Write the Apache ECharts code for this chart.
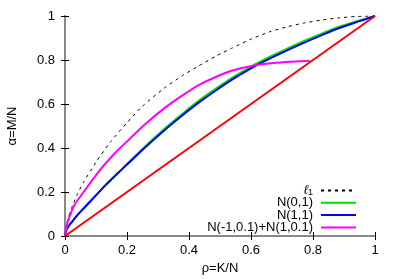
<!DOCTYPE html>
<html><head><meta charset="utf-8">
<script src="https://cdn.jsdelivr.net/npm/echarts@6/dist/echarts.min.js"></script>
<style>html,body{margin:0;padding:0;background:#fff}#c{width:399px;height:279px}</style>
</head><body><div id="c"></div>
<script>
// ℓ1 curve
var l1Rho   = [0,0.005,0.012,0.025,0.04,0.06,0.1,0.145,0.2,0.25,0.32,0.38,0.43,0.49,0.54,0.6,0.66,0.72,0.77,0.83,0.88,0.94,1];
var l1Alpha = [0,0.05,0.09,0.14,0.19,0.245,0.335,0.425,0.515,0.59,0.672,0.73,0.772,0.82,0.855,0.895,0.928,0.952,0.968,0.982,0.991,0.998,1];
// N(0,1) and N(1,1)
var nRho     = [0,0.005,0.02,0.04,0.06,0.09,0.13,0.17,0.2,0.26,0.32,0.38,0.43,0.49,0.54,0.6,0.66,0.72,0.77,0.83,0.88,0.94,1];
var n01Alpha = [0,0.03,0.06,0.095,0.125,0.17,0.23,0.285,0.327,0.409,0.486,0.557,0.613,0.673,0.72,0.77,0.814,0.854,0.886,0.921,0.949,0.975,1];
var n11Alpha = [0,0.03,0.06,0.095,0.125,0.17,0.23,0.285,0.325,0.405,0.48,0.55,0.605,0.665,0.712,0.762,0.806,0.846,0.878,0.914,0.943,0.972,1];
// mixture
var mixRho   = [0,0.005,0.015,0.03,0.06,0.11,0.16,0.2,0.26,0.32,0.38,0.43,0.49,0.54,0.61,0.68,0.73,0.79];
var mixAlpha = [0,0.045,0.09,0.14,0.2,0.295,0.375,0.43,0.51,0.58,0.64,0.685,0.725,0.752,0.775,0.787,0.792,0.797];
// diagonal
var diagRho = [0,1];
var diagAlpha = [0,1];
var names = ['ℓ1','N(0,1)','N(1,1)','N(-1,0.1)+N(1,0.1)'];

function pairs(x,y){return x.map(function(v,i){return [v,y[i]];});}
var font = 'Liberation Sans, Arial, sans-serif';
var chart = echarts.init(document.getElementById('c'));
function fmt(v){return String(+v.toFixed(1));}
function axisBase(extra){
  var a = {type:'value',min:0,max:1,interval:0.2,splitLine:{show:false},
    axisTick:{show:true,inside:true,length:4,lineStyle:{color:'#000'}},
    axisLabel:{color:'#000',fontSize:13,fontFamily:font,formatter:fmt}};
  for (var k in extra) a[k]=extra[k];
  return a;
}
chart.setOption({
  animation:false,
  grid:{left:65,right:24,top:16,bottom:43,containLabel:false,outerBoundsMode:'none'},
  legend:{orient:'vertical',align:'right',right:37,top:179,itemWidth:35,itemHeight:10,itemGap:-0.7,
    data:names,itemStyle:{opacity:0},
    textStyle:{fontSize:13,fontFamily:font,color:'#000',lineHeight:13,padding:[0,3,0,0],
      rich:{i:{fontStyle:'italic',fontSize:13,fontFamily:font,lineHeight:13},s:{fontSize:9,fontFamily:font,lineHeight:13,verticalAlign:'bottom',padding:[4,0,0,0]}}},
    formatter:function(n){return n==='ℓ1'?'{i|ℓ}{s|1}':n;}},
  xAxis:[
    axisBase({position:'bottom',name:'ρ=K/N',nameLocation:'middle',nameGap:25,
      nameTextStyle:{fontSize:13,fontFamily:font,color:'#000'},
      axisLine:{lineStyle:{color:'#000',width:1}},axisLabel:{color:'#000',fontSize:13,fontFamily:font,margin:8,formatter:fmt}}),
    axisBase({position:'top',axisLabel:{show:false},axisLine:{lineStyle:{color:'#888',width:2}}})
  ],
  yAxis:[
    axisBase({position:'left',name:'α=M/N',nameLocation:'middle',nameGap:46,nameRotate:90,
      nameTextStyle:{fontSize:13,fontFamily:font,color:'#000'},
      axisLine:{lineStyle:{color:'#888',width:2}},axisLabel:{color:'#000',fontSize:13,fontFamily:font,margin:10,formatter:fmt}}),
    axisBase({position:'right',axisLabel:{show:false},axisLine:{lineStyle:{color:'#888',width:2}}})
  ],
  series:[
    {name:'ℓ1',type:'line',symbol:'none',data:pairs(l1Rho,l1Alpha),smooth:0.2,lineStyle:{color:'#000',width:1,type:[3,4]},itemStyle:{color:'#000'}},
    {name:'N(0,1)',type:'line',symbol:'none',data:pairs(nRho,n01Alpha),smooth:0.2,lineStyle:{color:'#00dd00',width:2},itemStyle:{color:'#00dd00'}},
    {name:'N(1,1)',type:'line',symbol:'none',data:pairs(nRho,n11Alpha),smooth:0.2,lineStyle:{color:'#0000ff',width:2},itemStyle:{color:'#0000ff'}},
    {name:'N(-1,0.1)+N(1,0.1)',type:'line',symbol:'none',data:pairs(mixRho,mixAlpha),smooth:0.2,lineStyle:{color:'#ff00ff',width:2},itemStyle:{color:'#ff00ff'}},
    {name:'diag',type:'line',symbol:'none',data:pairs(diagRho,diagAlpha),lineStyle:{color:'#ff0000',width:2},itemStyle:{color:'#ff0000'}}
  ]
});
</script></body></html>
